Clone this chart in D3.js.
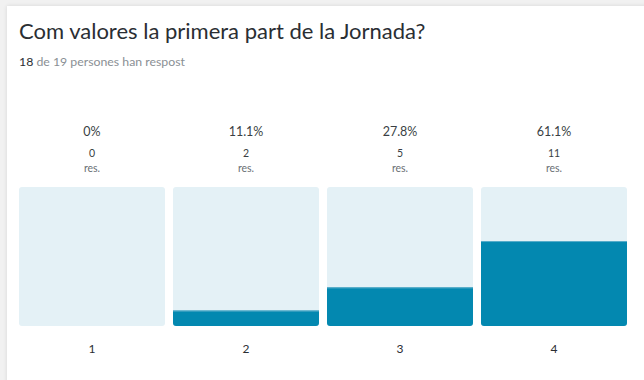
<!DOCTYPE html>
<html>
<head>
<meta charset="utf-8">
<script src="https://cdn.jsdelivr.net/npm/d3@7"></script>
<style>
  html, body { margin: 0; padding: 0; background: #f1f1f1; }
  svg { display: block; font-family: Lato, "Open Sans", sans-serif; }
</style>
</head>
<body>
<svg id="chart" width="644" height="380"></svg>
<script>
// Survey answers: rating 1–4
const categories = ["1", "2", "3", "4"];
const counts = [0, 2, 5, 11];
const percentLabels = ["0%", "11.1%", "27.8%", "61.1%"];
const answered = 18;
const total = 19;

const svg = d3.select("#chart");
const W = 644, H = 380;

// card shadow
const defs = svg.append("defs");
const f = defs.append("filter").attr("id", "shadow").attr("x", "-5%").attr("y", "-5%").attr("width", "110%").attr("height", "110%");
f.append("feGaussianBlur").attr("in", "SourceAlpha").attr("stdDeviation", 2);
f.append("feComponentTransfer").append("feFuncA").attr("type", "linear").attr("slope", 0.12);
const m = f.append("feMerge");
m.append("feMergeNode");
m.append("feMergeNode").attr("in", "SourceGraphic");

svg.append("rect").attr("width", W).attr("height", H).attr("fill", "#f1f1f1");
svg.append("rect").attr("x", 7).attr("y", 6).attr("width", W).attr("height", H)
  .attr("fill", "#ffffff").attr("filter", "url(#shadow)");

// title & subtitle
svg.append("text").attr("x", 19).attr("y", 39)
  .attr("font-size", 22).attr("fill", "#2a2e33")
  .text("Com valores la primera part de la Jornada?");
const sub = svg.append("text").attr("x", 19).attr("y", 66).attr("font-size", 12.3).attr("fill", "#8a8f94");
sub.append("tspan").attr("fill", "#2a2e33").text(answered);
sub.append("tspan").text(" de " + total + " persones han respost");

// scales
const x = d3.scaleBand().domain(categories).range([19, 627]).paddingInner(8 / 154).paddingOuter(0);
const yTop = 187, yBot = 326;
const y = d3.scaleLinear().domain([0, answered]).range([yBot, yTop]);

const data = categories.map((c, i) => ({ c, n: counts[i], p: percentLabels[i] }));

const g = svg.append("g");
const clip = defs.selectAll("clipPath").data(data).join("clipPath")
  .attr("id", (d, i) => "clip" + i);
clip.append("rect")
  .attr("x", d => x(d.c)).attr("y", yTop)
  .attr("width", x.bandwidth()).attr("height", yBot - yTop)
  .attr("rx", 3).attr("ry", 3);

const cols = g.selectAll("g.col").data(data).join("g").attr("class", "col")
  .attr("clip-path", (d, i) => `url(#clip${i})`);
cols.append("rect")
  .attr("x", d => x(d.c)).attr("y", yTop)
  .attr("width", x.bandwidth()).attr("height", yBot - yTop)
  .attr("fill", "#e4f1f6");
cols.filter(d => d.n > 0).append("rect")
  .attr("x", d => x(d.c)).attr("y", d => y(d.n))
  .attr("width", x.bandwidth()).attr("height", d => yBot - y(d.n))
  .attr("fill", "#0388b0");
cols.filter(d => d.n > 0).append("line")
  .attr("x1", d => x(d.c)).attr("x2", d => x(d.c) + x.bandwidth())
  .attr("y1", d => y(d.n) + 0.5).attr("y2", d => y(d.n) + 0.5)
  .attr("stroke", "#5aaecb").attr("stroke-width", 1);

// value labels
const lab = svg.append("g").attr("text-anchor", "middle");
lab.selectAll("text.pct").data(data).join("text").attr("class", "pct")
  .attr("x", d => x(d.c) + x.bandwidth() / 2).attr("y", 136)
  .attr("font-size", 12.5).attr("fill", "#3a3f44").text(d => d.p);
lab.selectAll("text.cnt").data(data).join("text").attr("class", "cnt")
  .attr("x", d => x(d.c) + x.bandwidth() / 2).attr("y", 157)
  .attr("font-size", 10.5).attr("fill", "#3a3f44").text(d => d.n);
lab.selectAll("text.res").data(data).join("text").attr("class", "res")
  .attr("x", d => x(d.c) + x.bandwidth() / 2).attr("y", 172)
  .attr("font-size", 10.5).attr("fill", "#6a6f74").text("res.");

// category axis
const axis = svg.append("g").attr("transform", `translate(0,${yBot})`)
  .call(d3.axisBottom(x).tickSize(0).tickPadding(18));
axis.select(".domain").remove();
axis.selectAll("text").attr("font-size", 12).attr("fill", "#2a2e33")
  .attr("font-family", "Lato, 'Open Sans', sans-serif");
</script>
</body>
</html>
